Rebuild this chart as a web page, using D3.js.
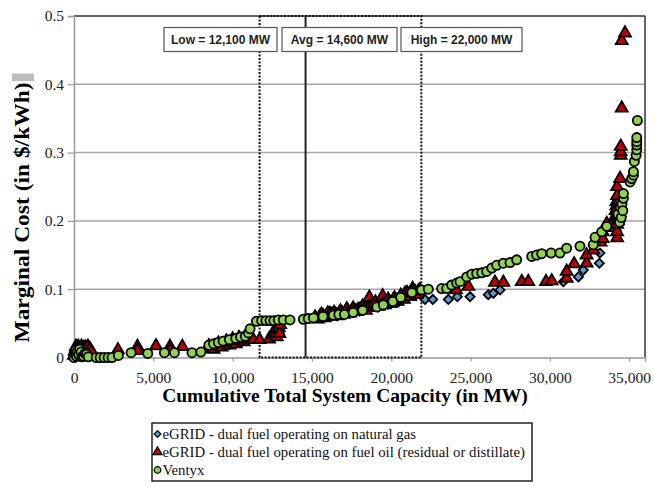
<!DOCTYPE html>
<html>
<head>
<meta charset="utf-8">
<script src="https://cdn.jsdelivr.net/npm/d3@7"></script>
<style>
  body { margin: 0; background: #fff; }
  svg { display: block; }
  .serif { font-family: "Liberation Serif", "Times New Roman", serif; }
  .sans { font-family: "Liberation Sans", Arial, sans-serif; }
</style>
</head>
<body>
<svg id="chart" width="654" height="487"></svg>
<script>
// ---- data (MW, $/kWh) ----
let gasPoints = [ // eGRID - dual fuel on natural gas
  [150,0.005],[300,0.009],[500,0.003],[700,0.008],[900,0.002],
  [9000,0.015],[9800,0.019],[10500,0.022],
  [15600,0.058],[16140,0.068],[16600,0.061],[17300,0.066],[18000,0.068],[18400,0.072],
  [19200,0.074],[19800,0.078],[20500,0.082],[21000,0.088],
  [22130,0.085],[22620,0.085],[23600,0.085],[24170,0.089],[24970,0.089],[26120,0.092],
  [26440,0.094],[26860,0.099],[30850,0.111],[31800,0.118],[32110,0.128],[33120,0.138],
  [33160,0.153]
];
let oilPoints = [ // eGRID - dual fuel on fuel oil
  [0,0.003],[50,0.009],[100,0.012],[120,0.016],[150,0.008],[180,0.001],[200,0.015],
  [220,0.011],[250,0.006],[280,0.016],[300,0.011],[330,0.007],[350,0.002],[380,0.013],
  [400,0.014],[420,0.003],[450,0.009],[480,0.016],[500,0.005],[520,0.009],[550,0.012],
  [580,0.014],[600,0.004],[620,0.007],[650,0.010],[680,0.012],[700,0.015],[720,0.002],
  [750,0.007],[780,0.014],[800,0.003],[820,0.008],[850,0.011],[880,0.016],[900,0.006],
  [950,0.010],[1000,0.013],[1050,0.004],[1100,0.009],
  [2770,0.011],[4000,0.016],[4000,0.010],[5170,0.017],[6050,0.016],[6050,0.010],
  [6830,0.016],
  [8400,0.013],[8500,0.017],[8700,0.015],[8800,0.012],[8900,0.017],[9100,0.021],
  [9200,0.018],[9300,0.015],[9400,0.020],[9600,0.024],[9700,0.021],[9800,0.018],
  [9900,0.022],[10000,0.027],[10100,0.023],[10200,0.020],[10300,0.025],[10400,0.029],
  [10600,0.026],[10700,0.023],[10800,0.027],[10900,0.030],
  [11000,0.026],[11300,0.026],[11700,0.026],[12300,0.027],[12500,0.033],[12600,0.038],
  [12700,0.036],[12780,0.030],[12850,0.041],[12900,0.044],[12950,0.035],[13000,0.048],
  [15200,0.059],[15400,0.056],[15500,0.060],[15600,0.063],[15700,0.061],[15800,0.058],
  [15900,0.061],[16000,0.065],[16100,0.062],[16200,0.060],[16300,0.063],[16400,0.066],
  [16500,0.063],[16600,0.061],[16700,0.064],[16800,0.068],[16900,0.065],[17000,0.063],
  [17100,0.066],[17200,0.071],[17300,0.067],[17400,0.065],[17500,0.068],[17600,0.072],
  [17700,0.069],[17800,0.067],[17900,0.070],[18000,0.070],[18100,0.071],[18200,0.075],
  [18300,0.072],[18400,0.069],[18500,0.074],[18600,0.077],[18620,0.088],[18700,0.075],
  [18800,0.073],[18900,0.076],[19000,0.081],[19100,0.077],[19200,0.075],[19300,0.078],
  [19400,0.083],[19460,0.090],[19500,0.079],[19600,0.077],[19700,0.080],[19800,0.085],
  [19900,0.081],[20000,0.079],[20100,0.083],[20200,0.087],[20300,0.084],[20400,0.082],
  [20500,0.086],[20600,0.091],[20700,0.088],[20800,0.085],[20870,0.094],[20900,0.090],
  [21000,0.095],[21100,0.092],[21200,0.089],[21300,0.094],[21350,0.101],[21400,0.098],
  [21500,0.096],[21600,0.092],[21700,0.097],[21800,0.099],
  [24090,0.099],[24860,0.104],[26540,0.110],[27070,0.110],[28230,0.111],[28640,0.111],
  [29760,0.111],[30120,0.112],[31060,0.116],[31060,0.126],[31530,0.137],[32320,0.138],
  [32320,0.150],[32740,0.157],[33200,0.169],[33330,0.174],[33330,0.184],[33590,0.196],
  [34000,0.200],[34100,0.190],[34150,0.205],[34150,0.215],[34200,0.210],[34200,0.222],
  [34200,0.228],[34250,0.208],[34300,0.225],[34300,0.214],[34350,0.230],[34350,0.220],
  [34350,0.205],[34400,0.212],[34300,0.200],[34240,0.175],[34240,0.184],[34240,0.195],
  [34240,0.217],[34240,0.237],[34240,0.250],[34430,0.262],[34470,0.296],[34470,0.301],
  [34470,0.309],[34530,0.365],[34530,0.464],[34740,0.475]
];
let ventyxPoints = [ // Ventyx
  [0,0.000],[50,0.006],[100,0.010],[150,0.002],[200,0.008],[300,0.004],[350,0.012],
  [450,0.008],[500,0.001],[600,0.002],[700,0.006],[800,0.005],[900,0.001],
  [1400,0.000],[1650,0.000],[1900,0.000],[2150,0.000],[2400,0.000],[2800,0.003],
  [3600,0.007],[4650,0.006],[5700,0.007],[6330,0.007],[7440,0.007],[8000,0.008],
  [8500,0.018],[8800,0.020],[9100,0.022],[9400,0.024],[9800,0.026],[10200,0.028],
  [10500,0.030],[10800,0.031],[11000,0.036],[11100,0.042],
  [11500,0.053],[11830,0.054],[12100,0.054],[12360,0.054],[12600,0.054],[12880,0.055],
  [13200,0.055],[13620,0.055],[14460,0.056],[14770,0.057],[15100,0.058],[15700,0.060],
  [16350,0.062],[16700,0.063],[17050,0.063],[17600,0.066],[18200,0.069],[19090,0.074],
  [19500,0.077],[20100,0.082],[20600,0.088],[21300,0.095],[21920,0.099],[22340,0.100],
  [23180,0.101],[23500,0.101],[23810,0.106],[24130,0.109],[24340,0.111],[24760,0.118],
  [25080,0.122],[25390,0.123],[25710,0.124],[26020,0.126],[26340,0.131],[26650,0.135],
  [27070,0.138],[27490,0.139],[27910,0.143],[28860,0.148],[29170,0.150],[29490,0.152],
  [30080,0.153],[30640,0.153],[31060,0.160],[31900,0.163],[32740,0.165],[32850,0.176],
  [33270,0.184],[33590,0.192],[34300,0.210],[34400,0.198],[34450,0.220],[34500,0.205],
  [34550,0.225],[34600,0.215],[34640,0.233],
  [34640,0.240],[35060,0.257],[35160,0.262],[35270,0.267],[35270,0.272],[35330,0.287],
  [35440,0.296],[35480,0.304],[35480,0.311],[35480,0.316],[35480,0.322],[35520,0.347]
];
let xTicks = [0, 5000, 10000, 15000, 20000, 25000, 30000, 35000];
let yTicks = [0, 0.1, 0.2, 0.3, 0.4, 0.5];
// load markers: where the lines sit, and what the boxes say
let loadLines = [
  {name: "low", at: 11700, label: "Low = 12,100 MW"},
  {name: "avg", at: 14600, label: "Avg = 14,600 MW"},
  {name: "high", at: 21900, label: "High = 22,000 MW"}
];
let seriesNames = [
  "eGRID - dual fuel operating on natural gas",
  "eGRID - dual fuel operating on fuel oil (residual or distillate)",
  "Ventyx"
];

let svg = d3.select("#chart");
let plotL = 74, plotR = 645, plotT = 16, plotB = 357.5;

let x = d3.scaleLinear().domain([0, 36000]).range([plotL, plotR]);
let y = d3.scaleLinear().domain([0, 0.5]).range([plotB, plotT]);

// gridlines
svg.append("g")
  .selectAll("line")
  .data(yTicks.filter(t => t > 0 && t < 0.5))
  .join("line")
  .attr("x1", plotL).attr("x2", plotR)
  .attr("y1", d => y(d)).attr("y2", d => y(d))
  .attr("stroke", "#a6a6a6").attr("stroke-width", 1.5);

// plot frame: dark on top/right, grey axes on left/bottom
svg.append("line").attr("x1", plotL).attr("x2", plotR).attr("y1", plotT).attr("y2", plotT)
  .attr("stroke", "#333").attr("stroke-width", 1.5);
svg.append("line").attr("x1", plotR).attr("x2", plotR).attr("y1", plotT).attr("y2", plotB)
  .attr("stroke", "#333").attr("stroke-width", 1.5);

let xAxis = svg.append("g")
  .attr("transform", "translate(0," + plotB + ")")
  .call(d3.axisBottom(x).tickValues(xTicks).tickSize(4).tickPadding(10)
    .tickFormat(d3.format(",")));
let yAxis = svg.append("g")
  .attr("transform", "translate(" + plotL + ",0)")
  .call(d3.axisLeft(y).tickValues(yTicks).tickSize(6).tickPadding(4)
    .tickFormat(d => d == 0 ? "0" : d3.format(".1f")(d)));
for(let ax of [xAxis, yAxis]) {
  ax.select(".domain").attr("stroke", "#999").attr("stroke-width", 1.5);
  ax.selectAll(".tick line").attr("stroke", "#999").attr("stroke-width", 1.2);
  ax.selectAll("text").attr("class", "serif").attr("font-size", 15.5)
    .attr("fill", "#222");
}

// dotted box between low and high, solid line at avg
let low = loadLines[0].at, avg = loadLines[1].at, high = loadLines[2].at;
svg.append("rect")
  .attr("x", x(low)).attr("y", plotT)
  .attr("width", x(high) - x(low)).attr("height", plotB - plotT)
  .attr("fill", "none").attr("stroke", "#111").attr("stroke-width", 2)
  .attr("stroke-dasharray", "2,1.5");
svg.append("line")
  .attr("x1", x(avg)).attr("x2", x(avg)).attr("y1", plotT).attr("y2", plotB)
  .attr("stroke", "#222").attr("stroke-width", 2);

// label boxes
let boxes = [[164, 277], [282, 397], [401, 522]];
loadLines.forEach((l, i) => {
  let b = boxes[i];
  svg.append("rect")
    .attr("x", b[0]).attr("y", 27.5).attr("width", b[1] - b[0]).attr("height", 24)
    .attr("fill", "#fff").attr("stroke", "#555").attr("stroke-width", 1.2);
  svg.append("text")
    .attr("class", "sans")
    .attr("x", (b[0] + b[1]) / 2).attr("y", 44)
    .attr("text-anchor", "middle").attr("font-size", 12).attr("font-weight", "bold")
    .attr("fill", "#222")
    .text(l.label);
});

// markers
let circle = d3.symbol().type(d3.symbolCircle).size(66);
let tri = d3.symbol().type(d3.symbolTriangle).size(62);
let diamond = d3.symbol().type(d3.symbolSquare).size(42);

function drawSeries(points, path, fill, rotate) {
  svg.append("g")
    .selectAll("path")
    .data(points)
    .join("path")
    .attr("d", path)
    .attr("transform", d => "translate(" + x(d[0]) + "," + y(d[1]) + ")" + (rotate ? " rotate(45)" : ""))
    .attr("fill", fill)
    .attr("stroke", "#000")
    .attr("stroke-width", 1.8);
}
drawSeries(gasPoints, diamond, "#5b9bd5", true);
drawSeries(oilPoints, tri, "#c00000", false);
drawSeries(ventyxPoints, circle, "#92d050", false);

// axis titles
svg.append("text")
  .attr("class", "serif")
  .attr("x", 345).attr("y", 402)
  .attr("text-anchor", "middle").attr("font-size", 19.5).attr("font-weight", "bold")
  .text("Cumulative Total System Capacity (in MW)");
svg.append("text")
  .attr("class", "serif")
  .attr("transform", "translate(29,212.5) rotate(-90)")
  .attr("text-anchor", "middle").attr("font-size", 20).attr("font-weight", "bold")
  .attr("textLength", 260).attr("lengthAdjust", "spacingAndGlyphs")
  .text("Marginal Cost (in $/kWh)");
svg.append("rect")
  .attr("x", 12).attr("y", 73.5).attr("width", 22).attr("height", 7.5)
  .attr("fill", "#bdbdbd");

// legend
let lg = svg.append("g");
lg.append("rect")
  .attr("x", 152).attr("y", 423).attr("width", 380).attr("height", 58)
  .attr("fill", "#fff").attr("stroke", "#222").attr("stroke-width", 1.5);
let legendMarks = [[d3.symbolSquare, 22, "#5b9bd5", true],
                   [d3.symbolTriangle, 36, "#c00000", false],
                   [d3.symbolCircle, 34, "#92d050", false]];
seriesNames.forEach((name, i) => {
  let yy = 434 + i * 18;
  let m = legendMarks[i];
  lg.append("path")
    .attr("d", d3.symbol().type(m[0]).size(m[1]))
    .attr("transform", "translate(157.5," + yy + ")" + (m[3] ? " rotate(45)" : ""))
    .attr("fill", m[2]).attr("stroke", "#000").attr("stroke-width", 1.2);
  lg.append("text")
    .attr("class", "serif")
    .attr("x", 162.5).attr("y", yy + 5)
    .attr("font-size", 14.8).attr("fill", "#111")
    .text(name);
});
</script>
</body>
</html>
